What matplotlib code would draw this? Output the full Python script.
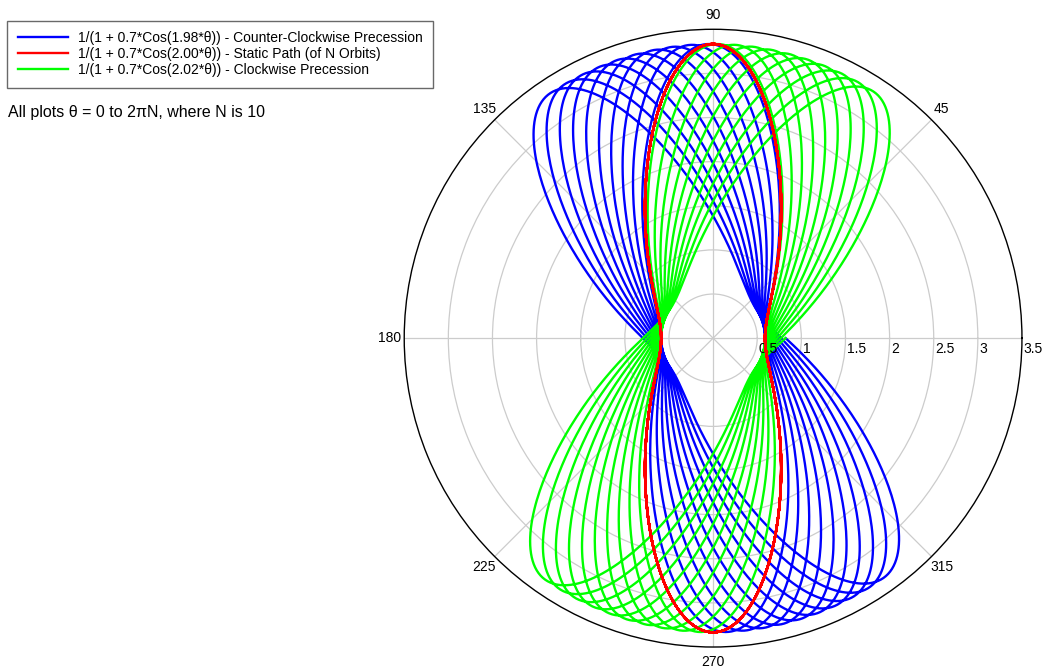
import matplotlib
matplotlib.use('Agg')
import matplotlib.pyplot as plt
import numpy as np

# orbit parameters: r = 1/(1 + e*cos(k*theta)), theta from 0 to 2*pi*N
ecc = 0.7
k_values = [1.98, 2.00, 2.02]
colors = ['#0000ff', '#ff0000', '#00ff00']
labels = ['1/(1 + 0.7*Cos(1.98*\u03b8)) - Counter-Clockwise Precession',
          '1/(1 + 0.7*Cos(2.00*\u03b8)) - Static Path (of N Orbits)',
          '1/(1 + 0.7*Cos(2.02*\u03b8)) - Clockwise Precession']
n_orbits = 10
n_points = 6000

r_ticks = [0.5, 1, 1.5, 2, 2.5, 3]
r_tick_labels = ['0.5', '1', '1.5', '2', '2.5', '3', '3.5']
r_max = 3.5
angle_ticks = [0, 45, 90, 135, 180, 225, 270, 315]
angle_labels = ['', '45', '90', '135', '180', '225', '270', '315']

plt.rcParams['font.family'] = ['Liberation Sans', 'DejaVu Sans']

fig = plt.figure(figsize=(10.53, 6.70), dpi=100)
ax = fig.add_axes([0.3837, 0.0343, 0.587, 0.922], projection='polar')

theta = np.linspace(0, 2 * np.pi * n_orbits, n_points)
lines = []
for k, c, lab in zip(k_values, colors, labels):
    r = 1.0 / (1.0 + ecc * np.cos(k * theta))
    ln, = ax.plot(theta, r, color=c, lw=1.7, label=lab)
    lines.append(ln)
# static path drawn on top
lines[1].set_zorder(4)

ax.set_ylim(0, r_max)
ax.set_yticks(r_ticks)
ax.set_yticklabels([])
ax.set_xticks(np.deg2rad(angle_ticks))
ax.set_xticklabels(angle_labels, fontsize=10)
ax.tick_params(axis='x', pad=0)
ax.grid(True, color='#cccccc', lw=0.9)
ax.spines['polar'].set_color('black')
ax.spines['polar'].set_linewidth(1.0)

# radial labels just outside each circle, under the 0 degree spoke
for rv, txt in zip(r_ticks + [r_max], r_tick_labels):
    ax.annotate(txt, xy=(0, rv), xytext=(1, -3), textcoords='offset points',
                ha='left', va='top', fontsize=10, annotation_clip=False)

leg = fig.legend(handles=lines, loc='upper left', bbox_to_anchor=(0.007, 0.969),
                 fontsize=10, frameon=True, fancybox=False, edgecolor='#444444',
                 handlelength=3.6, handletextpad=0.7, labelspacing=0.15,
                 borderpad=0.75, borderaxespad=0)
leg.get_frame().set_linewidth(1.0)

fig.text(0.008, 0.832, 'All plots \u03b8 = 0 to 2\u03c0N, where N is 10',
         fontsize=11.5, ha='left', va='center')

fig.savefig('out.png', dpi=100)
